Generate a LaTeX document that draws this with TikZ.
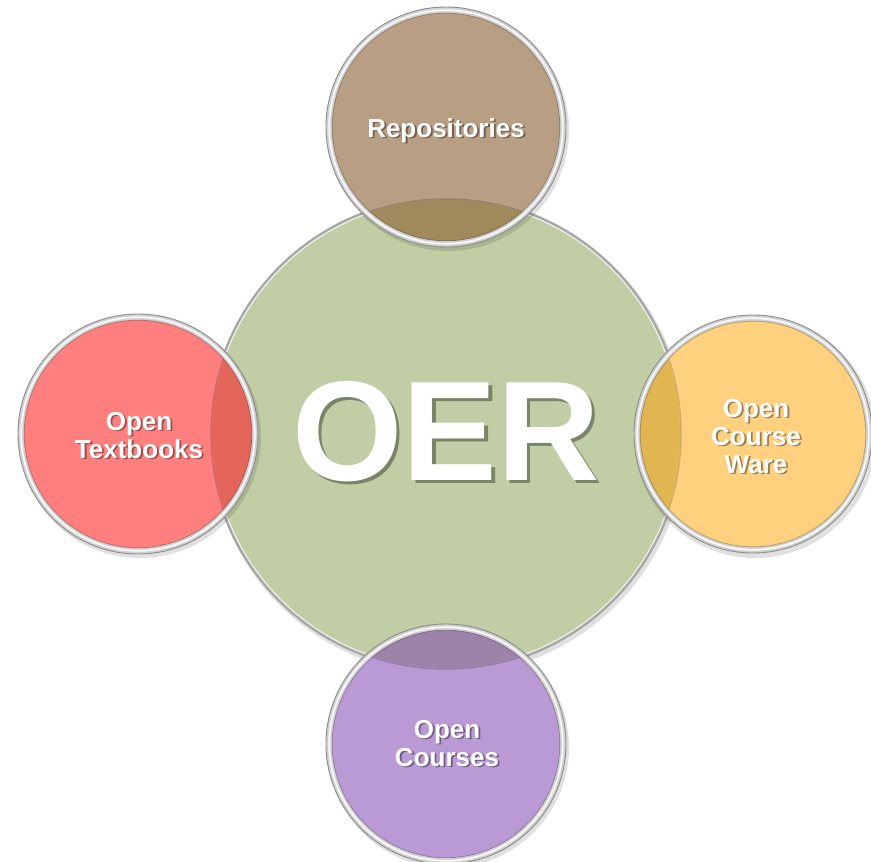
\documentclass[tikz,border=0pt]{standalone}
\usepackage{fontspec}
\setmainfont{Liberation Sans}
\definecolor{cgreen}{HTML}{C1CDA5}
\definecolor{cbrown}{HTML}{B89F83}
\definecolor{cbrownov}{HTML}{A08A5C}
\definecolor{cred}{HTML}{FF7F7F}
\definecolor{credov}{HTML}{E4665A}
\definecolor{corange}{HTML}{FFD17F}
\definecolor{corangeov}{HTML}{E1B54F}
\definecolor{cpurple}{HTML}{B99AD5}
\definecolor{cpurpleov}{HTML}{9D82AA}
\tikzset{
  lbl/.style={text=white, font=\bfseries\fontsize{26}{28}\selectfont, anchor=base, inner sep=0pt},
  lblsh/.style={lbl, text=black, text opacity=0.4},
  big/.style={text=white, font=\bfseries\fontsize{142}{150}\selectfont, anchor=base, inner sep=0pt},
  bigsh/.style={big, text=black!60!cgreen, text opacity=0.6},
  rimouter/.style={line width=6pt, draw=black!18},
  rimedge/.style={line width=0.9pt, draw=black!45},
  rimhi/.style={line width=1.8pt, draw=white, draw opacity=0.85},
  circshadow/.style={fill=black, fill opacity=0.12},
}
\newcommand\lbl[4]{%
  \node[lblsh] (#1s) at (#2+1.8,#3+1.8) {#4};
  \node[lbl] (#1) at (#2,#3) {#4};}
\begin{document}
\begin{tikzpicture}[x=1pt,y=-1pt]
\useasboundingbox (0,0) rectangle (871,862);
% centre circle
\fill[circshadow] (448,437) circle (238);
\fill[cgreen] (446,434) circle (236);
\draw[line width=3pt, draw=black!35] (446,434) circle (235.5);
\draw[line width=1.2pt, draw=white, draw opacity=0.8] (446,434) circle (234);
% outer circles: shadows and fills
\foreach \cx/\cy in {446/127, 138/434, 753/434, 446/744}{
  \fill[circshadow] (\cx+2,\cy+3) circle (121);
}
\fill[cbrown] (446,127) circle (120);
\fill[cred] (138,434) circle (120);
\fill[corange] (753,434) circle (119);
\fill[cpurple] (446,744) circle (120);
% overlaps
\begin{scope}
  \clip (446,434) circle (234);
  \fill[cbrownov] (446,127) circle (118);
  \fill[credov] (138,434) circle (118);
  \fill[corangeov] (753,434) circle (117);
  \fill[cpurpleov] (446,744) circle (118);
\end{scope}
% faint centre rim through the overlaps
\begin{scope}
  \clip (446,127) circle (118) (138,434) circle (118) (753,434) circle (117) (446,744) circle (118);
  \draw[line width=1.5pt, draw=black, draw opacity=0.18] (446,434) circle (235);
\end{scope}
% rims of outer circles
\foreach \cx/\cy/\r in {446/127/120, 138/434/120, 753/434/119, 446/744/120}{
  \draw[rimouter] (\cx,\cy) circle (\r-3);
  \draw[rimedge] (\cx,\cy) circle (\r);
  \draw[rimhi] (\cx,\cy) circle (\r-3.2);
  \draw[line width=0.8pt, draw=black, draw opacity=0.25] (\cx,\cy) circle (\r-6.2);
}
% texts
\node[bigsh] (oers) at (449.5,483.5) {OER};
\node[big] (oer) at (446,480) {OER};
\lbl{rep}{446}{137}{Repositories}
\lbl{otA}{139}{430}{Open}
\lbl{otB}{139}{458}{Textbooks}
\lbl{ocwA}{756}{417}{Open}
\lbl{ocwB}{756}{445}{Course}
\lbl{ocwC}{756}{473}{Ware}
\lbl{ocA}{447}{738}{Open}
\lbl{ocB}{447}{766}{Courses}
\end{tikzpicture}
\end{document}
